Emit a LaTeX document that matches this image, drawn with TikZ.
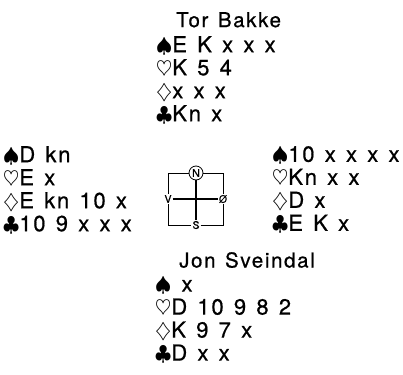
\documentclass[tikz,border=0pt]{standalone}
\usepackage{fontspec}
\setmainfont{TeX Gyre Heros}[WordSpace={1.3},LetterSpace=8,FakeBold=0.7]
\usetikzlibrary{positioning}
\newcommand{\spar}{$\spadesuit$}
\newcommand{\hjerter}{$\heartsuit$}
\newcommand{\ruter}{$\diamondsuit$}
\newcommand{\klover}{$\clubsuit$}
\newcommand{\handfont}{\fontsize{22}{23}\selectfont}
\newcommand{\navnfont}{\fontsize{20.5}{23}\selectfont}

\begin{document}
\begin{tikzpicture}[
        x=1pt,y=-1pt,
        hand/.style={anchor=north west,inner sep=0pt,align=left,font=\handfont},
        navn/.style={anchor=north west,inner sep=0pt,font=\navnfont},
        retning/.style={inner sep=1pt,font=\fontsize{10.5}{11}\selectfont,fill=white}]
        \useasboundingbox (0,0) rectangle (403,374);
        % spillere
        \node[navn] (nordnavn) at (176,12) {Tor Bakke};
        \node[hand] (nordhand) at (156,36) {\spar E K x x x\\\hjerter K 5 4\\\ruter x x x\\\klover Kn x};
        \node[hand] (vesthand) at (3,146) {\spar D kn\\\hjerter E x\\\ruter E kn 10 x\\\klover 10 9 x x x};
        \node[hand] (osthand) at (272,146) {\spar 10 x x x x\\\hjerter Kn x x\\\ruter D x\\\klover E K x};
        \node[navn] (sydnavn) at (179,252) {Jon Sveindal};
        \node[hand] (sydhand) at (155,277) {\spar\ x\\\hjerter D 10 9 8 2\\\ruter K 9 7 x\\\klover D x x};
        % kompass
        \coordinate (kNV) at (168,173);
        \coordinate (kNO) at (223,173);
        \coordinate (kSV) at (168,225);
        \coordinate (kSO) at (223,225);
        \node[retning,circle,draw,line width=0.8pt,inner sep=0.5pt,minimum size=14pt] (nord) at (196,173) {N};
        \node[retning] (vest) at (168,199) {V};
        \node[retning] (ost) at (223,199) {Ø};
        \node[retning] (syd) at (196,225) {S};
        \draw[line width=1.1pt] (vest) -- (ost);
        \draw[line width=1.1pt] (nord) -- (syd);
        \draw[line width=0.8pt] (nord.west) -- (kNV) -- (vest.north);
        \draw[line width=0.8pt] (vest.south) -- (kSV) -- (syd.west);
        \draw[line width=0.8pt] (syd.east) -- (kSO) -- (ost.south);
        \draw[line width=0.8pt] (ost.north) -- (kNO) -- (nord.east);
\end{tikzpicture}
\end{document}
